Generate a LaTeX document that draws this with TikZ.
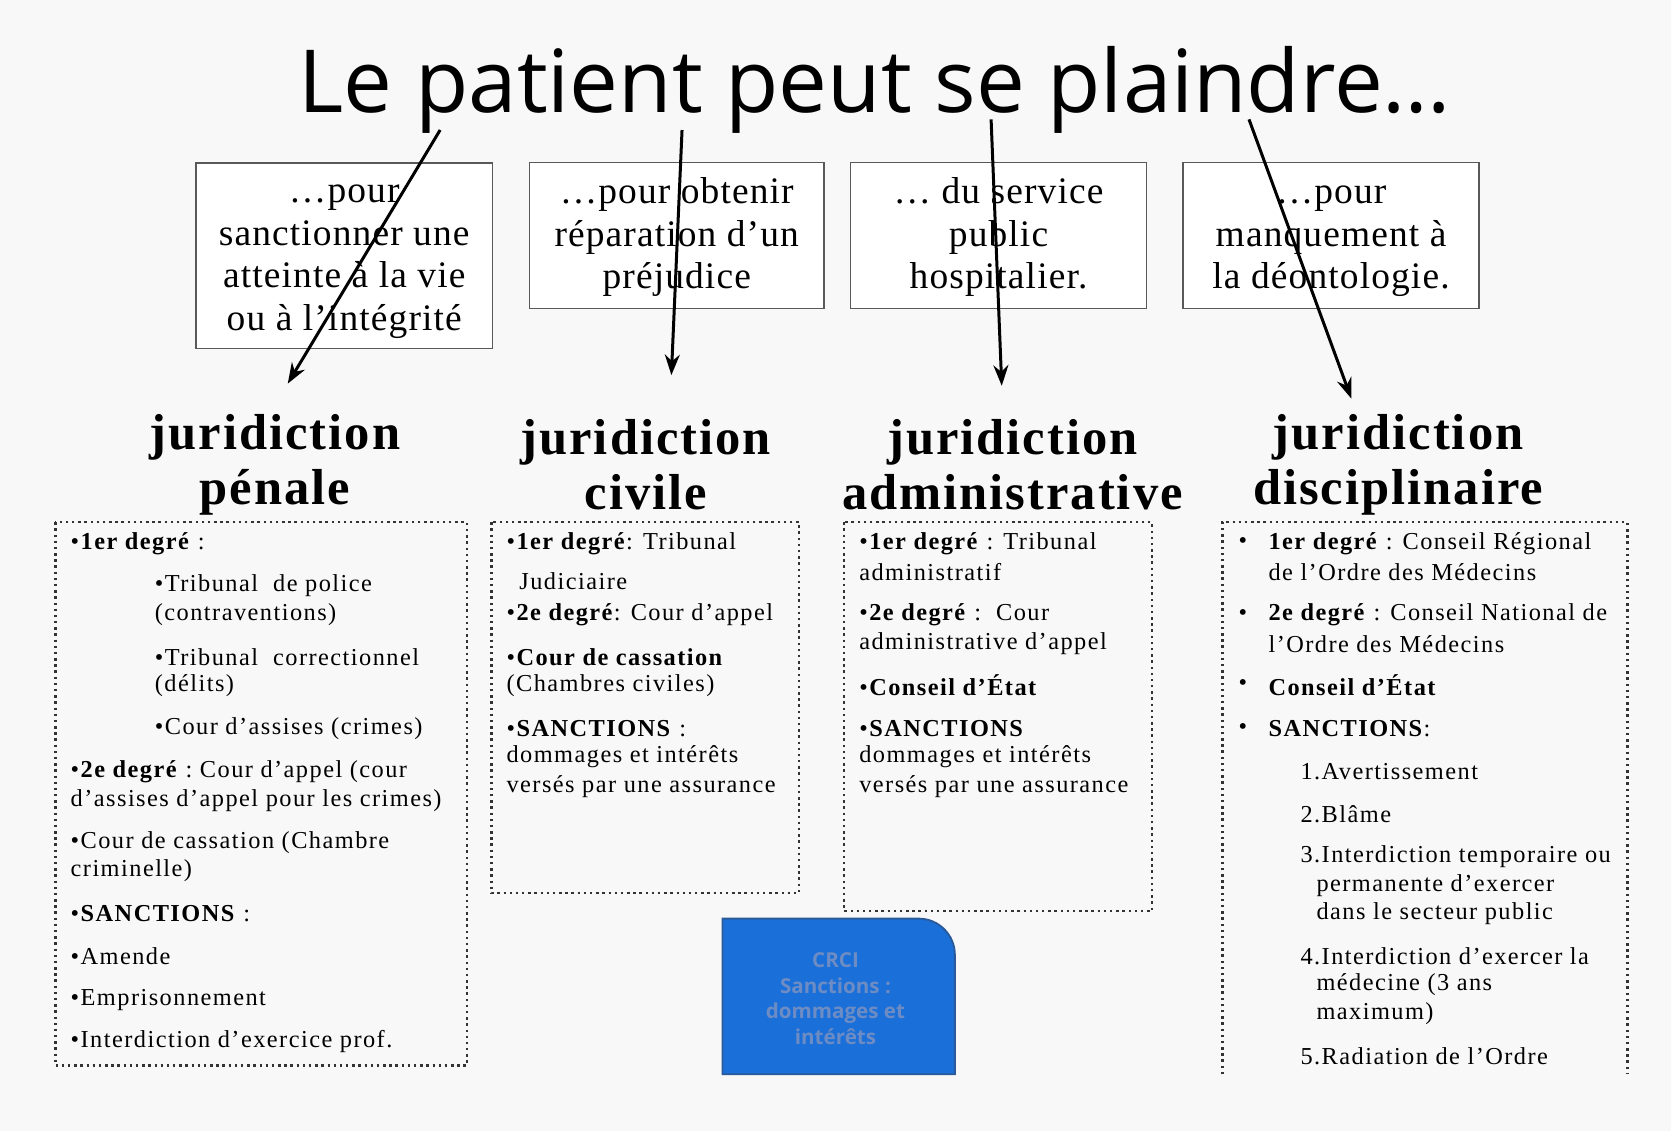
\documentclass[tikz,border=0pt]{standalone}
\usepackage{fontspec}
\setmainfont{Liberation Serif}
\newfontfamily\titlefont{Open Sans}
\usetikzlibrary{positioning,arrows.meta}
\definecolor{bgpage}{HTML}{F8F8F8}
\definecolor{crciblue}{HTML}{1A6FD8}
\definecolor{crciedge}{HTML}{2A5A9A}
\definecolor{crcitext}{HTML}{6E8CC4}

\begin{document}
\begin{tikzpicture}[
  x=0.02cm, y=-0.02cm,
  motive/.style={
    rectangle, draw=gray!70!black, line width=0.8pt, fill=white, align=center,
    font=\fontsize{20}{22.7}\selectfont\addfontfeature{LetterSpace=3}, inner sep=2pt
  },
  court/.style={
    align=center, font=\fontsize{27}{29.5}\selectfont\bfseries\addfontfeature{LetterSpace=4}
  },
  frame/.style={draw=black!80, line width=1.3pt, dotted},
  line/.style={anchor=west, inner sep=0pt,
    font=\fontsize{13}{14}\selectfont\addfontfeature{LetterSpace=6}},
  arrow/.style={-{Stealth[length=11pt,width=8pt]}, line width=1.6pt, black}
]
\fill[bgpage] (0,0) rectangle (1568,1061);
\useasboundingbox (0,0) rectangle (1568,1061);

% === Title ===
\node[anchor=base, font=\titlefont\fontsize{46.5}{50}\selectfont] (title) at (821,106)
  {Le patient peut se plaindre\ldots};

% === Motive boxes ===
\node[motive, minimum width=5.56cm, minimum height=3.48cm] (m1) at (323,240)
  {\strut\ldots pour\\sanctionner une\\atteinte à la vie\\ou à l'intégrité};
\node[motive, minimum width=5.52cm, minimum height=2.74cm] (m2) at (635,221)
  {\strut\ldots pour obtenir\\réparation d'un\\préjudice};
\node[motive, minimum width=5.56cm, minimum height=2.74cm] (m3) at (937,221)
  {\strut\ldots\ du service\\public\\hospitalier.};
\node[motive, minimum width=5.56cm, minimum height=2.74cm] (m4) at (1249,221)
  {\strut\ldots pour\\manquement à\\la déontologie.};

% === Court headings ===
\node[court] (pen) at (258,436) {juridiction\\pénale};
\node[court] (civ) at (606,436) {juridiction\\civile};
\node[court] (adm) at (950,436) {juridiction\\administrative};
\node[court] (dis) at (1312,436) {juridiction\\disciplinaire};

% === Arrows from the title ===
\coordinate (s1) at (413,122); \coordinate (t1) at (270,360);
\coordinate (s2) at (640,122); \coordinate (t2) at (630,352);
\coordinate (s3) at (930,112); \coordinate (t3) at (940,362);
\coordinate (s4) at (1172,112); \coordinate (t4) at (1268,374);
\draw[arrow] (s1) -- (t1);
\draw[arrow] (s2) -- (t2);
\draw[arrow] (s3) -- (t3);
\draw[arrow] (s4) -- (t4);

% === Dotted frames ===
\draw[frame] (52,490) rectangle (438,1000);
\draw[frame] (461,490) rectangle (750,838);
\draw[frame] (792,490) rectangle (1081,855);
\draw[frame] (1147,1008) |- (1527,490) -- (1527,1008);

% === Penal ===
\node[line] (p1) at (66,510) {•\textbf{1er degré} :};
\node[line] (p2) at (145,550) {•Tribunal\ \ de police};
\node[line] (p3) at (145,577) {(contraventions)};
\node[line] (p4) at (145,617) {•Tribunal\ \ correctionnel};
\node[line] (p5) at (145,643) {(délits)};
\node[line] (p6) at (145,684) {•Cour d'assises (crimes)};
\node[line] (p7) at (66,724) {•\textbf{2e degré} :\ Cour d'appel (cour};
\node[line] (p8) at (66,751) {d'assises d'appel pour les crimes)};
\node[line] (p9) at (66,791) {•Cour de cassation\ (Chambre};
\node[line] (p10) at (66,817) {criminelle)};
\node[line] (p11) at (66,857) {•\textbf{SANCTIONS} :};
\node[line] (p12) at (66,897) {•Amende};
\node[line] (p13) at (66,938) {•Emprisonnement};
\node[line] (p14) at (66,977) {•Interdiction d'exercice prof.};

% === Civil ===
\node[line] (c1) at (475,510) {•\textbf{1er degré}: Tribunal};
\node[line] (c2) at (487,545) {Judiciaire};
\node[line] (c3) at (475,577) {•\textbf{2e degré}: Cour d'appel};
\node[line] (c4) at (475,617) {•\textbf{Cour de cassation}};
\node[line] (c5) at (475,643) {(Chambres civiles)};
\node[line] (c6) at (475,684) {•\textbf{SANCTIONS} :};
\node[line] (c7) at (475,710) {dommages et intérêts};
\node[line] (c8) at (475,738) {versés par une assurance};

% === Administrative ===
\node[line] (a1) at (806,510) {•\textbf{1er degré} : Tribunal};
\node[line] (a2) at (806,537) {administratif};
\node[line] (a3) at (806,577) {•\textbf{2e degré} :\ \ Cour};
\node[line] (a4) at (806,604) {administrative d'appel};
\node[line] (a5) at (806,643) {•\textbf{Conseil d'État}};
\node[line] (a6) at (806,684) {•\textbf{SANCTIONS}};
\node[line] (a7) at (806,710) {dommages et intérêts};
\node[line] (a8) at (806,738) {versés par une assurance};

% === Disciplinary ===
\foreach \y in {510,577,643,684}
  \node[line] at (1162,\y) {•};
\node[line] (d1) at (1190,510) {\textbf{1er degré} : Conseil Régional};
\node[line] (d2) at (1190,537) {de l'Ordre des Médecins};
\node[line] (d3) at (1190,577) {\textbf{2e degré} : Conseil National de};
\node[line] (d4) at (1190,604) {l'Ordre des Médecins};
\node[line] (d5) at (1190,643) {\textbf{Conseil d'État}};
\node[line] (d6) at (1190,684) {\textbf{SANCTIONS}:};
\node[line] (d7) at (1220,724) {1.Avertissement};
\node[line] (d8) at (1220,764) {2.Blâme};
\node[line] (d9) at (1220,804) {3.Interdiction temporaire\ ou};
\node[line] (d10) at (1235,831) {permanente d'exercer};
\node[line] (d11) at (1235,857) {dans le secteur public};
\node[line] (d12) at (1220,897) {4.Interdiction\ d'exercer la};
\node[line] (d13) at (1235,924) {médecine (3 ans};
\node[line] (d14) at (1235,951) {maximum)};
\node[line] (d15) at (1220,991) {5.Radiation de l'Ordre};

% === CRCI box ===
\filldraw[fill=crciblue, draw=crciedge, line width=1pt]
  (678,1008) -- (678,862) -- (862,862) to[out=0,in=90] (896,896) -- (896,1008) -- cycle;
\node[align=center, text=crcitext, font=\titlefont\bfseries\fontsize{11}{13.8}\selectfont] (crci) at (784,937)
  {CRCI\\Sanctions :\\dommages et\\intérêts};
\end{tikzpicture}
\end{document}
